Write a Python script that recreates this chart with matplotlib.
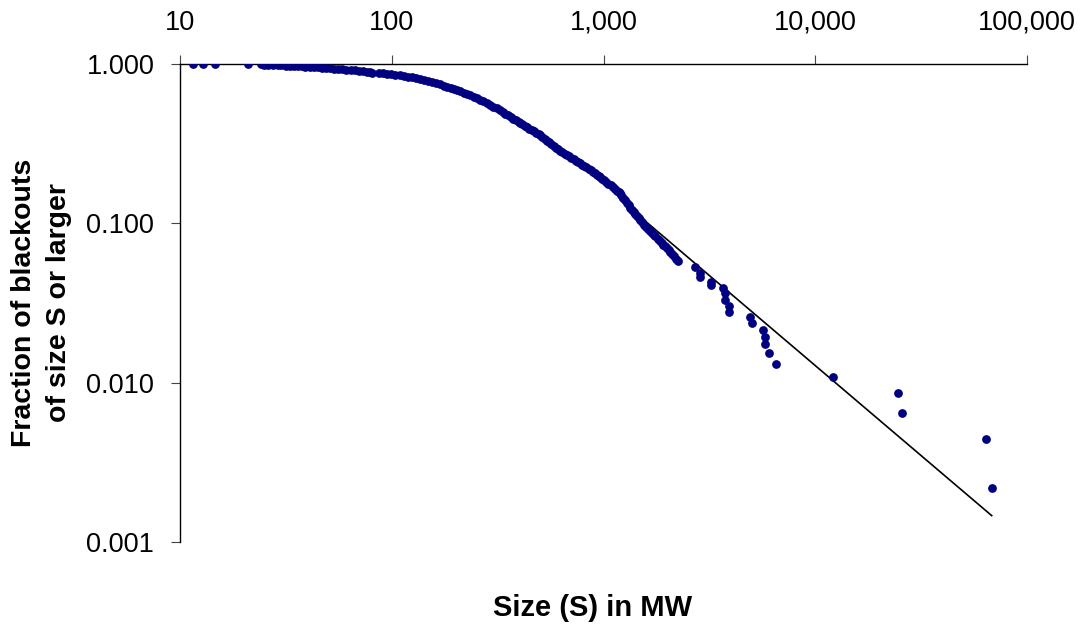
import matplotlib
matplotlib.use("Agg")
import matplotlib.pyplot as plt
import numpy as np
from matplotlib.ticker import FixedLocator, FixedFormatter, NullLocator

plt.rcParams["font.family"] = ["Liberation Sans", "DejaVu Sans"]

# blackout size in MW and fraction of blackouts of that size or larger
sizes = [
    11.5, 12.9, 14.6, 21,
    24, 25, 26, 27.5, 29, 30, 31.5, 33, 34.5, 36, 37.5, 39, 41, 43, 45, 47,
    49, 51, 53.5, 56, 58.5, 61, 64, 67, 70, 73, 76, 79, 81,
    87, 91, 95, 99, 104, 109, 114, 119, 124, 130, 136, 142, 148, 155, 162, 169,
    176, 183, 190, 197, 204, 211, 219, 227, 235, 244, 253, 262, 271, 281, 291,
    302, 313, 325, 334, 344, 354, 364, 375, 386, 397, 404, 414, 425, 436, 447,
    458, 470, 482, 494, 502, 514, 527, 540, 553, 567, 581, 595, 609, 624, 640,
    656, 672, 689, 706, 723, 741, 759, 775, 793, 811, 830, 850, 870, 890, 911,
    932, 953, 963, 985, 1008, 1031, 1055, 1080, 1105, 1130, 1156, 1180, 1197,
    1215, 1240, 1265, 1290, 1315, 1340, 1365, 1390, 1409, 1435, 1465, 1495,
    1525, 1560, 1595, 1630, 1658, 1690, 1725, 1760, 1800, 1840, 1880, 1920,
    1960, 1995, 2030, 2070, 2110, 2150, 2200, 2248,
    2704, 2856, 2856, 3208, 3208, 3679, 3749, 3749, 3915, 3915, 4920, 5044,
    5685, 5791, 5791, 6048, 6506, 12170, 24670, 25600, 64030, 68120,
]
fractions = [
    1.000, 0.998, 0.996, 0.994,
    0.993, 0.990, 0.988, 0.985, 0.983, 0.981, 0.978, 0.975, 0.972, 0.970,
    0.967, 0.964, 0.960, 0.956, 0.952, 0.948, 0.944, 0.941, 0.936, 0.932,
    0.927, 0.922, 0.916, 0.911, 0.905, 0.899, 0.893, 0.888, 0.884,
    0.879, 0.873, 0.867, 0.861, 0.854, 0.847, 0.839, 0.830, 0.823, 0.813,
    0.805, 0.792, 0.780, 0.767, 0.755, 0.744,
    0.731, 0.718, 0.707, 0.696, 0.685, 0.675, 0.661, 0.647, 0.635, 0.622,
    0.609, 0.598, 0.583, 0.568, 0.555, 0.541, 0.527, 0.514, 0.502, 0.489,
    0.477, 0.466, 0.454, 0.443, 0.433, 0.426, 0.4175, 0.409, 0.401, 0.393,
    0.385, 0.3775, 0.3698, 0.3624, 0.358, 0.349, 0.340, 0.331, 0.323, 0.3145,
    0.3065, 0.299, 0.2917, 0.2843, 0.2787, 0.2732, 0.268, 0.2627, 0.2575,
    0.2527, 0.2479, 0.2432, 0.239, 0.234, 0.2292, 0.2244, 0.2195, 0.2149,
    0.2103, 0.2059, 0.2015, 0.1974, 0.1953, 0.1906, 0.1859, 0.1815, 0.1771,
    0.1728, 0.1685, 0.1645, 0.1606, 0.1571, 0.1549,
    0.1506, 0.1451, 0.1398, 0.1348, 0.1300, 0.1256, 0.1215, 0.1174, 0.1144,
    0.1113, 0.1079, 0.1047, 0.1016, 0.0982, 0.0950, 0.0919, 0.0895, 0.0873,
    0.0849, 0.0827, 0.0803, 0.0779, 0.0757, 0.0736, 0.0716, 0.0700, 0.0681,
    0.0660, 0.0641, 0.0622, 0.0600, 0.0580,
    0.0534, 0.0490, 0.0458, 0.0430, 0.0410, 0.0391, 0.0364, 0.0330, 0.0303,
    0.0279, 0.0259, 0.0238, 0.0214, 0.0193, 0.0174, 0.0153, 0.0131, 0.0109,
    0.00864, 0.00647, 0.00441, 0.00217,
]

# power law fit drawn over the tail
fit_coef = 424.0
fit_exp = -1.13
fit_from = 1200

x_ticks = [10, 100, 1000, 10000, 100000]
x_labels = ["10", "100", "1,000", "10,000", "100,000"]
y_ticks = [0.001, 0.01, 0.1, 1.0]
y_labels = ["0.001", "0.010", "0.100", "1.000"]

fig = plt.figure(figsize=(10.87, 6.28), dpi=100)
ax = fig.add_axes([0.1656, 0.1369, 0.9448 - 0.1656, 0.8981 - 0.1369])

ax.plot(sizes, fractions, "o", color="#000080", markersize=6.3,
        markeredgewidth=0, zorder=3)

fit_x = np.array([fit_from] + [s for s in sizes if s > fit_from])
ax.plot(fit_x, fit_coef * fit_x ** fit_exp, color="black", linewidth=1.2,
        zorder=2)

ax.set_xscale("log")
ax.set_yscale("log")
ax.set_xlim(10, 100000)
ax.set_ylim(0.001, 1.0)

ax.xaxis.set_major_locator(FixedLocator(x_ticks))
ax.xaxis.set_major_formatter(FixedFormatter(x_labels))
ax.xaxis.set_minor_locator(NullLocator())
ax.yaxis.set_major_locator(FixedLocator(y_ticks))
ax.yaxis.set_major_formatter(FixedFormatter(y_labels))
ax.yaxis.set_minor_locator(NullLocator())

ax.xaxis.tick_top()
ax.spines["right"].set_visible(False)
ax.spines["bottom"].set_visible(False)
for sp in ("left", "top"):
    ax.spines[sp].set_linewidth(1.0)
ax.tick_params(axis="both", direction="out", length=6.5, width=0.8,
               color="#444444", labelsize=19.5)
ax.tick_params(axis="x", pad=14)
ax.tick_params(axis="y", pad=12)

ax.set_ylabel("Fraction of blackouts\nof size S or larger", fontsize=20.5,
              fontweight="bold", linespacing=1.45)
ax.yaxis.set_label_coords(-0.127, 0.5)
fig.text(0.545, 0.032, "Size (S) in MW", fontsize=21, fontweight="bold",
         ha="center", va="center")

fig.savefig("out.png", dpi=100)
